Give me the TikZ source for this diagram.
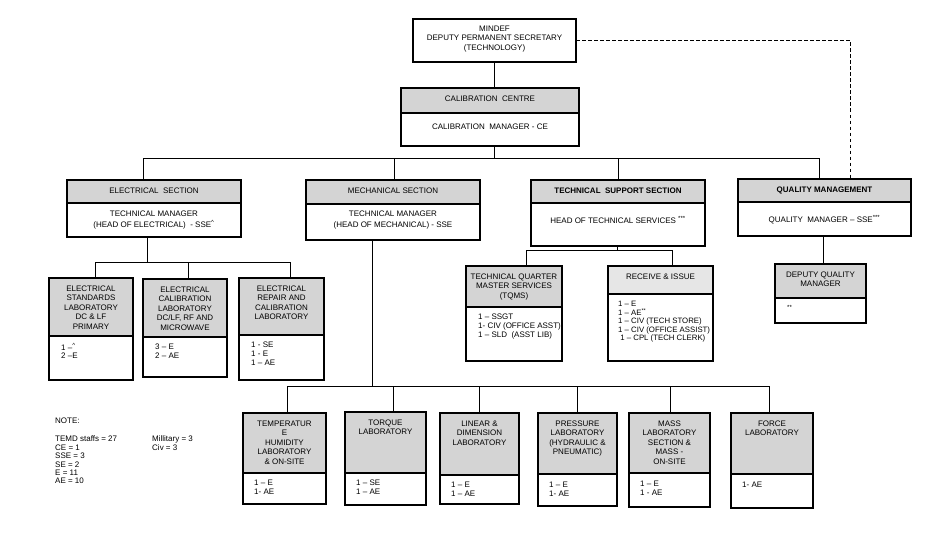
\documentclass[tikz,border=0pt]{standalone}
\usepackage{fontspec}
\setmainfont{Liberation Sans}
\usepackage{tikz}
\usetikzlibrary{fit, positioning}

\definecolor{headgray}{HTML}{D4D4D4}
\definecolor{headlight}{HTML}{E6E6E6}

% unit box: name, x left, x right, y top, y divider, y bottom, fill, title
\newcommand{\unitbox}[8]{%
  \node[headbox, fill=#7, fit={(#2,#4) (#3,#5)}] (#1) {};
  \node[bodybox, fit={(#2,#5) (#3,#6)}] (#1-b) {};
  \node[headtext] (#1-t) at ([yshift=-7.5pt]#1.north) {#8};
}

\begin{document}
\begin{tikzpicture}[x=1pt, y=-1pt,
    headbox/.style={draw, line width=2.9pt, inner sep=0pt, outer sep=0pt},
    bodybox/.style={draw, fill=white, line width=2.9pt, inner sep=0pt, outer sep=0pt},
    headtext/.style={anchor=north, align=center, inner sep=0pt, font=\fontsize{8}{9.5}\selectfont},
    listtext/.style={anchor=north west, align=left, inner sep=0pt, font=\fontsize{8}{8.8}\selectfont},
    sectext/.style={anchor=center, align=center, inner sep=0pt, font=\fontsize{8}{11.5}\selectfont},
    topline/.style={align=center, inner sep=0pt, font=\fontsize{8}{9.3}\selectfont},
    notetext/.style={align=left, inner sep=0pt, font=\fontsize{8}{8.4}\selectfont},
    link/.style={line width=0.9pt},
    dashlink/.style={line width=0.9pt, dash pattern=on 3.5pt off 2.5pt}]
  \useasboundingbox (0,0) rectangle (935,543);

  % ministry
  \node[bodybox, fit={(413,19) (576,62)}] (mindef) {};
  \node[topline] (mindef-t) at ([yshift=1.5pt]mindef.center)
    {MINDEF\\DEPUTY PERMANENT SECRETARY\\(TECHNOLOGY)};

  % centre
  \unitbox{cc}{401}{579}{88}{113}{146}{headgray}{CALIBRATION\ \ CENTRE}
  \node[sectext] (cc-l) at ([yshift=-14pt]cc-b.north) {CALIBRATION\ \ MANAGER - CE};

  % sections
  \unitbox{elec}{67}{241}{180}{203}{237}{headgray}{ELECTRICAL\ \ SECTION}
  \unitbox{mech}{306}{480}{180}{204}{240}{headgray}{MECHANICAL SECTION}
  \unitbox{tss}{531}{705}{180}{203}{246}{headgray}{\textbf{TECHNICAL\ \ SUPPORT SECTION}}
  \unitbox{qm}{738}{911}{179}{202}{236}{headgray}{\textbf{QUALITY MANAGEMENT}}
  \node[sectext] (elec-l) at ([yshift=-17pt]elec-b.north)
    {TECHNICAL MANAGER\\(HEAD OF ELECTRICAL)\ \ - SSE\textsuperscript{\textasciicircum}};
  \node[sectext] (mech-l) at ([yshift=-16pt]mech-b.north)
    {TECHNICAL MANAGER\\(HEAD OF MECHANICAL) - SSE};
  \node[sectext] (tss-l) at ([yshift=-17pt]tss-b.north)
    {HEAD OF TECHNICAL SERVICES \textsuperscript{***}};
  \node[sectext] (qm-l) at ([yshift=-18pt]qm-b.north)
    {QUALITY\ \ MANAGER – SSE\textsuperscript{***}};

  % electrical laboratories
  \unitbox{esl}{49}{133}{278}{336}{380}{headgray}{ELECTRICAL\\STANDARDS\\LABORATORY\\DC \& LF\\PRIMARY}
  \unitbox{ecl}{143}{227}{279}{337}{377}{headgray}{ELECTRICAL\\CALIBRATION\\LABORATORY\\DC/LF, RF AND\\MICROWAVE}
  \unitbox{erc}{239}{324}{278}{335}{380}{headgray}{ELECTRICAL\\REPAIR AND\\CALIBRATION\\LABORATORY}
  \node[listtext] (esl-l) at ([xshift=12pt,yshift=-7pt]esl-b.north west)
    {1 –\textsuperscript{\textasciicircum}\\2 –E};
  \node[listtext] (ecl-l) at ([xshift=12pt,yshift=-7pt]ecl-b.north west) {3 – E\\2 – AE};
  \node[listtext] (erc-l) at ([xshift=12pt,yshift=-7pt]erc-b.north west) {1 - SE\\1 - E\\1 – AE};

  % technical support and quality units
  \unitbox{tqms}{466}{562}{266}{307}{361}{headgray}{TECHNICAL QUARTER\\MASTER SERVICES\\(TQMS)}
  \unitbox{ri}{608}{713}{266}{294}{361}{headlight}{RECEIVE \& ISSUE}
  \unitbox{dqm}{775}{866}{264}{298}{323}{headgray}{DEPUTY QUALITY\\MANAGER}
  \node[listtext] (tqms-l) at ([xshift=12pt,yshift=-7pt]tqms-b.north west)
    {1 – SSGT\\1- CIV (OFFICE ASST)\\1 – SLD\ \ (ASST LIB)};
  \node[listtext, font=\fontsize{7.8}{8.6}\selectfont] (ri-l) at ([xshift=10pt,yshift=-7pt]ri-b.north west)
    {1 – E\\1 – AE\textsuperscript{**}\\1 – CIV (TECH STORE)\\1 – CIV (OFFICE ASSIST)\\\ 1 – CPL (TECH CLERK)};
  \node[listtext] (dqm-l) at ([xshift=12pt,yshift=-7pt]dqm-b.north west) {\textsuperscript{**}};

  % mechanical laboratories
  \unitbox{temp}{243}{326}{413}{473}{504}{headgray}{TEMPERATUR\\E\\HUMIDITY\\LABORATORY\\\& ON-SITE}
  \unitbox{torq}{345}{426}{412}{473}{505}{headgray}{TORQUE\\LABORATORY}
  \unitbox{lin}{440}{519}{413}{475}{504}{headgray}{LINEAR \&\\DIMENSION\\LABORATORY}
  \unitbox{pres}{538}{617}{413}{474}{506}{headgray}{PRESSURE\\LABORATORY\\(HYDRAULIC \&\\PNEUMATIC)}
  \unitbox{mass}{629}{710}{413}{473}{507}{headgray}{MASS\\LABORATORY\\SECTION \&\\MASS -\\ON-SITE}
  \unitbox{force}{731}{813}{413}{474}{508}{headgray}{FORCE\\LABORATORY}
  \node[listtext] (temp-l) at ([xshift=11pt,yshift=-7pt]temp-b.north west) {1 – E\\1- AE};
  \node[listtext] (torq-l) at ([xshift=11pt,yshift=-7pt]torq-b.north west) {1 – SE\\1 – AE};
  \node[listtext] (lin-l) at ([xshift=11pt,yshift=-7pt]lin-b.north west) {1 – E\\1 – AE};
  \node[listtext] (pres-l) at ([xshift=11pt,yshift=-8pt]pres-b.north west) {1 – E\\1- AE};
  \node[listtext] (mass-l) at ([xshift=11pt,yshift=-8pt]mass-b.north west) {1 – E\\1 - AE};
  \node[listtext] (force-l) at ([xshift=11pt,yshift=-8pt]force-b.north west) {1- AE};

  % junctions
  \coordinate (jE) at (143,158); \coordinate (jM) at (394,158);
  \coordinate (jT) at (618,158); \coordinate (jQ) at (819,158);
  \coordinate (jEl) at (147,262); \coordinate (jESL) at (95,262);
  \coordinate (jECL) at (188,262); \coordinate (jERC) at (290,262);
  \coordinate (jTS) at (617,250); \coordinate (jTQ) at (526,250);
  \coordinate (jRI) at (672,250); \coordinate (jDQ) at (823,250);
  \coordinate (jMe) at (372,386); \coordinate (jTe) at (287,386);
  \coordinate (jTo) at (393,386); \coordinate (jLi) at (479,386);
  \coordinate (jPr) at (577,386); \coordinate (jMa) at (670,386);
  \coordinate (jFo) at (769,386); \coordinate (jDash) at (850,0);

  % connectors
  \draw[link] (mindef.south) -- (mindef.south |- cc.north);
  \draw[link] (mindef.south |- cc-b.south) -- (mindef.south |- jE);
  \draw[link] (jE) -- (jQ);
  \foreach \j/\n in {jE/elec, jM/mech, jT/tss, jQ/qm}
    \draw[link] (\j) -- (\j |- \n.north);
  \draw[link] (jEl |- elec-b.south) -- (jEl);
  \draw[link] (jESL) -- (jERC);
  \foreach \j/\n in {jESL/esl, jECL/ecl, jERC/erc}
    \draw[link] (\j) -- (\j |- \n.north);
  \draw[link] (jTS |- tss-b.south) -- (jTS);
  \draw[link] (jTQ) -- (jRI);
  \foreach \j/\n in {jTQ/tqms, jRI/ri}
    \draw[link] (\j) -- (\j |- \n.north);
  \draw[link] (jDQ |- qm-b.south) -- (jDQ |- dqm.north);
  \draw[link] (jMe |- mech-b.south) -- (jMe);
  \draw[link] (jTe) -- (jFo);
  \foreach \j/\n in {jTe/temp, jTo/torq, jLi/lin, jPr/pres, jMa/mass, jFo/force}
    \draw[link] (\j) -- (\j |- \n.north);
  \draw[dashlink] (mindef.east) -| (jDash |- qm.north);

  % note
  \node[notetext, anchor=west] (note) at (55,421) {NOTE:};
  \node[notetext, anchor=north west] (staff) at (55,436)
    {TEMD staffs = 27\\CE = 1\\SSE = 3\\SE = 2\\E = 11\\AE = 10};
  \node[notetext, anchor=north west] (forces) at (152,436) {Millitary = 3\\Civ = 3};
\end{tikzpicture}
\end{document}
